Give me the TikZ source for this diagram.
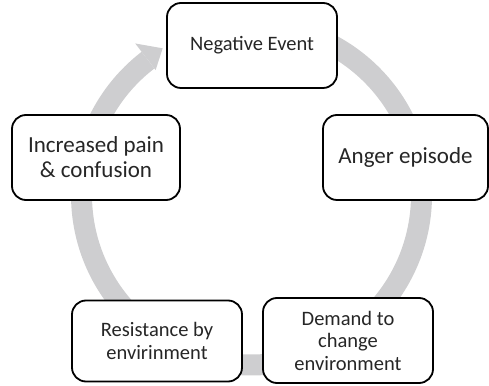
\documentclass[tikz,border=0pt]{standalone}
\usepackage{fontspec}
\setmainfont{Carlito}
\definecolor{cyclegray}{RGB}{206,206,208}
\begin{document}
\begin{tikzpicture}[x=1pt,y=1pt,
  stage/.style={draw=black, line width=1.8pt, rounded corners=14pt, fill=white,
    inner sep=0pt, align=center, text=black!85},
  bigtext/.style={font=\fontsize{23}{25}\selectfont},
  smalltext/.style={font=\fontsize{20.5}{22.5}\selectfont}]
\useasboundingbox (0,0) rectangle (489,385);
% the cycle arrow: a thick ring running clockwise, ending in a head
\coordinate (c) at (251.5,190);
\fill[cyclegray] ([shift={(95:180.5)}]c) arc[start angle=95, end angle=-232.5, radius=180.5]
  -- ([shift={(127.5:159.5)}]c) arc[start angle=-232.5, end angle=95, radius=159.5] -- cycle;
\fill[cyclegray] ([shift={(127.5:191)}]c) -- ([shift={(121.2:171.5)}]c)
  -- ([shift={(127.5:157.5)}]c) -- cycle;
% the five stages
\node[stage, smalltext, minimum width=170pt, minimum height=85pt] (neg) at (252,339.5) {Negative Event};
\node[stage, bigtext, minimum width=165pt, minimum height=85pt] (anger) at (405.5,227.5) {Anger episode};
\node[stage, smalltext, minimum width=170pt, minimum height=85pt] (demand) at (348,44.5) {Demand to\\change\\environment};
\node[stage, smalltext, minimum width=170pt, minimum height=81pt] (resist) at (157,44) {Resistance by\\envirinment};
\node[stage, bigtext, minimum width=168pt, minimum height=85pt] (pain) at (96,227.5) {Increased pain\\\& confusion};
\end{tikzpicture}
\end{document}
